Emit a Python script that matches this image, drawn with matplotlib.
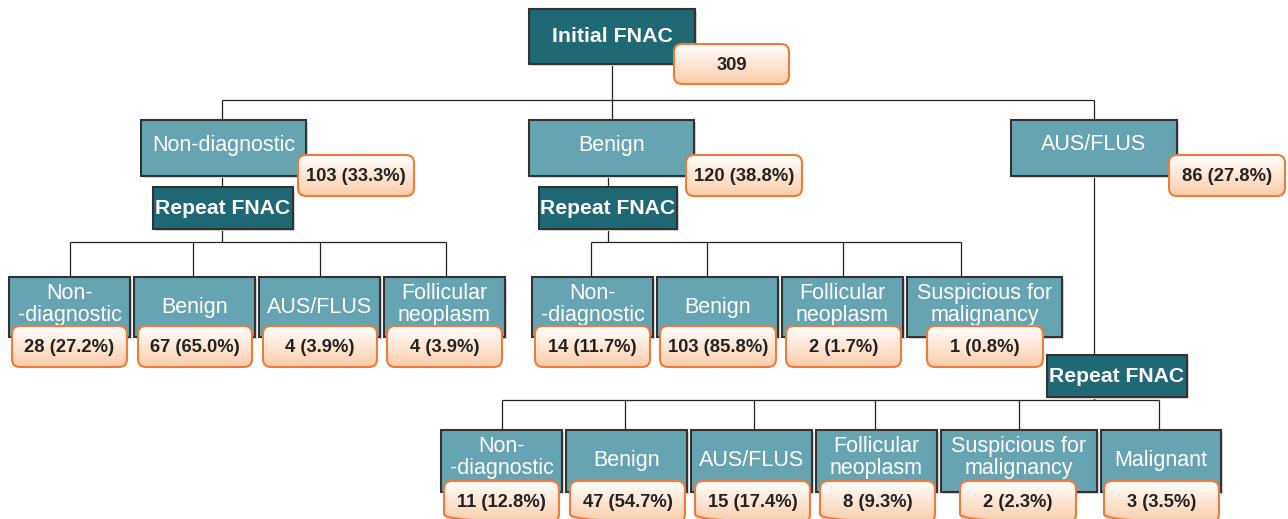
import matplotlib
matplotlib.use("Agg")
import matplotlib.pyplot as plt
import numpy as np
from matplotlib.patches import Rectangle, FancyBboxPatch

# ---------------- data ----------------
root_label = "Initial FNAC"
root_n = 309

level1_labels = ["Non-diagnostic", "Benign", "AUS/FLUS"]
level1_n = [103, 120, 86]
level1_pct = [33.3, 38.8, 27.8]

repeat_label = "Repeat FNAC"

nd_labels = ["Non-\n-diagnostic", "Benign", "AUS/FLUS", "Follicular\nneoplasm"]
nd_n = [28, 67, 4, 4]
nd_pct = [27.2, 65.0, 3.9, 3.9]

bn_labels = ["Non-\n-diagnostic", "Benign", "Follicular\nneoplasm", "Suspicious for\nmalignancy"]
bn_n = [14, 103, 2, 1]
bn_pct = [11.7, 85.8, 1.7, 0.8]

aus_labels = ["Non-\n-diagnostic", "Benign", "AUS/FLUS", "Follicular\nneoplasm",
              "Suspicious for\nmalignancy", "Malignant"]
aus_n = [11, 47, 15, 8, 2, 3]
aus_pct = [12.8, 54.7, 17.4, 9.3, 2.3, 3.5]

# ---------------- style ----------------
DARK = "#1f6874"
LIGHT = "#66a4b1"
EDGE = "#333333"
ORANGE = "#f07a3a"
FONT = "Liberation Sans"

fig = plt.figure(figsize=(12.88, 5.19), dpi=100)
ax = fig.add_axes([0, 0, 1, 1])
ax.set_xlim(0, 1288)
ax.set_ylim(519, 0)
ax.axis("off")

grad = np.zeros((64, 1, 3))
top = np.array([1.0, 1.0, 1.0])
bot = np.array([0.984, 0.80, 0.66])
for i in range(64):
    t = i / 63
    grad[i, 0] = top * (1 - t) + bot * t


def line(xs, ys):
    ax.plot(xs, ys, color="#222222", lw=0.9, zorder=1, solid_capstyle="butt")


def box(x0, y0, x1, y1, fc, text, bold=False, size=15.5, ty=None, ls=1.02):
    ax.add_patch(Rectangle((x0 + 2, y0 + 2), x1 - x0, y1 - y0, facecolor="#d8d8d8",
                           edgecolor="none", zorder=1.5))
    ax.add_patch(Rectangle((x0, y0), x1 - x0, y1 - y0, facecolor=fc,
                           edgecolor=EDGE, lw=1.5, zorder=2))
    if ty is None:
        ty = (y0 + y1) / 2
    ax.text((x0 + x1) / 2, ty, text, color="white", fontsize=size,
            fontweight="bold" if bold else "normal", family=FONT,
            ha="center", va="center", zorder=3, linespacing=ls)


def count_box(x0, y0, x1, y1, text):
    p = FancyBboxPatch((x0, y0), x1 - x0, y1 - y0,
                       boxstyle="round,pad=0,rounding_size=8",
                       facecolor="none", edgecolor=ORANGE, lw=1.5, zorder=5)
    ax.add_patch(p)
    im = ax.imshow(grad, extent=(x0, x1, y1, y0), origin="upper",
                   aspect="auto", zorder=4, interpolation="bilinear")
    clip = FancyBboxPatch((x0, y0), x1 - x0, y1 - y0,
                          boxstyle="round,pad=0,rounding_size=8",
                          facecolor="none", edgecolor="none",
                          transform=ax.transData)
    im.set_clip_path(clip)
    ax.text((x0 + x1) / 2, (y0 + y1) / 2 + 1, text, color="#222222",
            fontsize=13.2, fontweight="bold", family=FONT,
            ha="center", va="center", zorder=6)


def fmt(n, p):
    return f"{n} ({p:.1f}%)"


# ---------------- root ----------------
box(529, 9, 695, 64, DARK, root_label, bold=True, size=15.4, ty=37)
count_box(674, 44, 789, 84, str(root_n))

# connectors root -> level1
l1_x = [(141, 306), (529, 694), (1011, 1177)]
l1_cx = [222, 612, 1094]
line([612, 612], [64, 100])
line([l1_cx[0], l1_cx[-1]], [100, 100])
for cx in l1_cx:
    line([cx, cx], [100, 120])

for (x0, x1), lab, n, p in zip(l1_x, level1_labels, level1_n, level1_pct):
    box(x0, 120, x1, 176, LIGHT, lab, ty=145)
    count_box(x1 - 8, 155, x1 + 108, 196, fmt(n, p))

# ---------------- repeat FNAC for ND and Benign ----------------
rep_boxes = [(153, 293), (539, 677)]
for (x0, x1), cx in zip(rep_boxes, [222, 608]):
    line([cx, cx], [176, 187])
    box(x0, 187, x1, 229, DARK, repeat_label, bold=True, size=15.2)
    line([cx, cx], [229, 242])


def group(xs_boxes, cxs, labels, ns, pcts, ytop, ybot, hline_y, cbox_pad):
    line([cxs[0], cxs[-1]], [hline_y, hline_y])
    for cx in cxs:
        line([cx, cx], [hline_y, ytop])
    for (x0, x1), lab, n, p, (c0, c1) in zip(xs_boxes, labels, ns, pcts, cbox_pad):
        two = "\n" in lab
        ty = ytop + (27.5 if two else 30.5)
        box(x0, ytop, x1, ybot, LIGHT, lab, ty=ty)
        count_box(c0, ybot - 11, c1, ybot + 30, fmt(n, p))


# ND group
group([(9, 130), (134, 255), (259, 380), (384, 505)],
      [70, 193, 320, 446], nd_labels, nd_n, nd_pct, 277, 337, 242,
      [(12, 127), (138, 252), (263, 377), (387, 502)])

# Benign group
group([(532, 653), (657, 778), (782, 903), (907, 1062)],
      [591, 707, 843, 961], bn_labels, bn_n, bn_pct, 277, 337, 242,
      [(535, 650), (660, 776), (786, 901), (927, 1043)])

# AUS repeat
line([1094, 1094], [176, 355])
box(1047, 355, 1187, 397, DARK, repeat_label, bold=True, size=15.2)
line([1094, 1094], [397, 400])

group([(441, 562), (566, 687), (691, 812), (816, 937), (941, 1097), (1101, 1221)],
      [502, 625, 754, 875, 1019, 1159], aus_labels, aus_n, aus_pct, 430, 492, 400,
      [(444, 559), (570, 685), (695, 810), (820, 935), (960, 1076), (1104, 1219)])

ax.set_xlim(0, 1288)
ax.set_ylim(519, 0)
fig.savefig("out.png", dpi=100)
